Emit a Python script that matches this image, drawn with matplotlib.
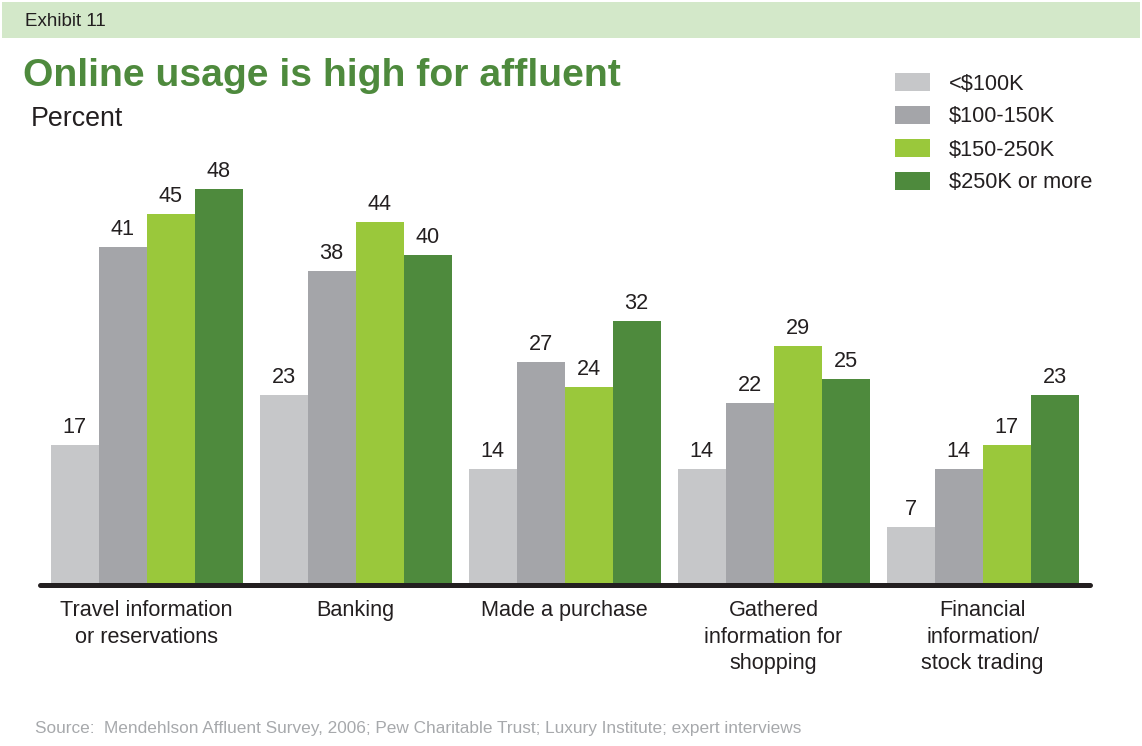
import matplotlib
matplotlib.use("Agg")
import matplotlib.pyplot as plt
from matplotlib.patches import Rectangle
import numpy as np

plt.rcParams['font.family'] = ['Liberation Sans', 'DejaVu Sans']

categories = ["Travel information\nor reservations", "Banking", "Made a purchase",
              "Gathered\ninformation for\nshopping", "Financial\ninformation/\nstock trading"]
series_names = ["<$100K", "$100-150K", "$150-250K", "$250K or more"]
under_100k = [17, 23, 14, 14, 7]
k100_150 = [41, 38, 27, 22, 14]
k150_250 = [45, 44, 24, 29, 17]
k250_plus = [48, 40, 32, 25, 23]
series_values = [under_100k, k100_150, k150_250, k250_plus]
colors = ["#c6c7c9", "#a4a5a9", "#9ac83b", "#4e8a3d"]

W, H = 1142, 746
fig = plt.figure(figsize=(W / 100, H / 100), dpi=100)

# header band
fig.patches.append(Rectangle((2 / W, 1 - 38 / H), 1138 / W, 36 / H, transform=fig.transFigure,
                             facecolor="#d3e8c9", edgecolor="none", zorder=0))
fig.text(25 / W, 1 - 22 / H, "Exhibit 11", fontsize=13.5, color="#231f20", va="center", ha="left")
fig.text(23 / W, 1 - 76 / H, "Online usage is high for affluent", fontsize=28.2, fontweight="bold",
         color="#4e8a3d", va="center", ha="left")
fig.text(31 / W, 1 - 119 / H, "Percent", fontsize=19.3, color="#231f20", va="center", ha="left")

ax = fig.add_axes([40 / W, 1 - 585 / H, 1050 / W, 435 / H])
x = np.arange(len(categories))
bw = 0.2295
offsets = (np.arange(4) - 1.5) * bw
for vals, off, col, name in zip(series_values, offsets, colors, series_names):
    bars = ax.bar(x + off, vals, width=bw, color=col, label=name, zorder=2)
    for b, v in zip(bars, vals):
        ax.annotate(str(v), (b.get_x() + b.get_width() / 2, v), xytext=(0, 5),
                    textcoords="offset points", ha="center", va="bottom",
                    fontsize=15.6, color="#231f20")

ax.set_xlim(-0.51, 4.514)
ax.set_ylim(0, 52.7)
ax.axhline(0, color="#231f20", lw=3.6, solid_capstyle="round", clip_on=False, zorder=3)
for s in ax.spines.values():
    s.set_visible(False)
ax.set_yticks([])
ax.set_xticks(x)
ax.set_xticklabels(categories, fontsize=15.6, color="#231f20", linespacing=1.33)
ax.tick_params(axis="x", length=0, pad=11)

# legend
lx0, lw_, lh = 895, 35, 18
for i, (name, col) in enumerate(zip(series_names, colors)):
    yc = 82 + 33 * i
    fig.patches.append(Rectangle((lx0 / W, 1 - (yc + lh / 2) / H), lw_ / W, lh / H,
                                 transform=fig.transFigure, facecolor=col, edgecolor="none"))
    fig.text(949 / W, 1 - (yc + 2) / H, name, fontsize=15.7, color="#231f20", va="center", ha="left")

fig.text(35 / W, 1 - 729 / H,
         "Source:  Mendehlson Affluent Survey, 2006; Pew Charitable Trust; Luxury Institute; expert interviews",
         fontsize=12.4, color="#a7a9ac", va="center", ha="left")

fig.savefig("out.png", dpi=100, facecolor="white")
